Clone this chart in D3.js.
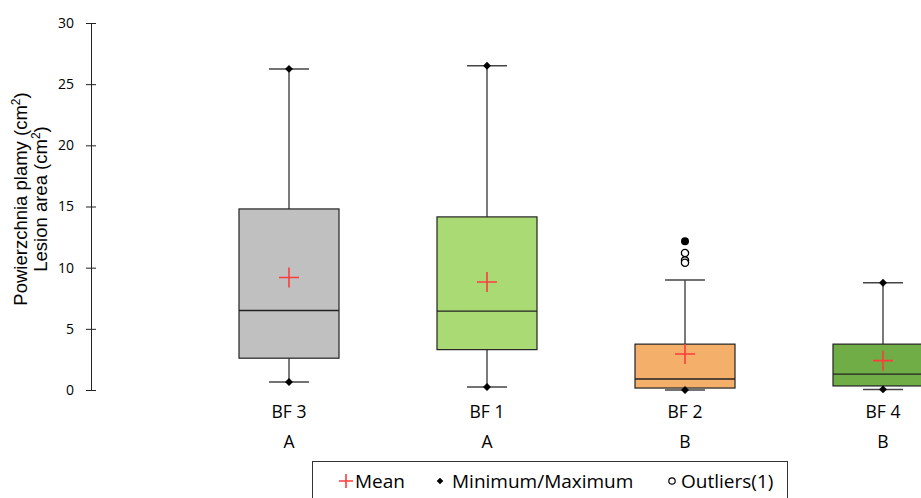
<!DOCTYPE html>
<html lang="pl">
<head>
<meta charset="utf-8">
<title>Lesion area box plot</title>
<script src="https://d3js.org/d3.v7.min.js"></script>
<style>
  body { margin: 0; background: #fff; }
  svg { display: block; font-family: "Open Sans", sans-serif; }
</style>
</head>
<body>
<svg id="chart" width="921" height="498"></svg>
<script>
// values
var groups   = ["BF 3", "BF 1", "BF 2", "BF 4"];
var letters  = ["A", "A", "B", "B"];
var colors   = ["#c0c0c0", "#a9da74", "#f4b06b", "#70ad47"];
var minVals  = [0.65, 0.25, 0.0, 0.05];
var q1Vals   = [2.6, 3.3, 0.16, 0.33];
var medVals  = [6.5, 6.45, 0.9, 1.3];
var q3Vals   = [14.8, 14.15, 3.75, 3.75];
var whiskHi  = [26.25, 26.5, 9.0, 8.77];
var maxVals  = [26.25, 26.5, 12.15, 8.77];
var meanVals = [9.2, 8.83, 2.94, 2.4];
// outliers of BF 2 (open circles)
var outliers = [[], [], [11.2, 10.6, 10.4], []];
var yTicks   = [0, 5, 10, 15, 20, 25, 30];

var svg = d3.select("#chart");

var y = d3.scaleLinear().domain([0, 30]).range([390, 23]);
var x = d3.scaleBand().domain(groups).range([190, 982]).padding(0);
var bw = 100;
var capW = 40;

// y axis, ticks cross the line
var yAxis = d3.axisLeft(y).tickValues(yTicks).tickSize(5).tickSizeOuter(0).tickPadding(12);
var ga = svg.append("g").attr("transform", "translate(91,0)").call(yAxis);
ga.select(".domain").attr("stroke", "#222");
ga.selectAll(".tick line").attr("stroke", "#222").attr("x1", 5).attr("x2", -5);
ga.selectAll(".tick text").attr("font-size", 14).attr("font-family", "Open Sans").attr("fill", "#000");

// y title (two lines)
function yTitle(xPos, label) {
  var t = svg.append("text")
    .attr("transform", "translate(" + xPos + ",199) rotate(-90)")
    .attr("text-anchor", "middle")
    .attr("font-family", "Liberation Sans, Arial, sans-serif")
    .attr("font-size", 18.5).attr("fill", "#000");
  t.append("tspan").text(label + " (cm");
  t.append("tspan").attr("baseline-shift", "super").attr("font-size", 12).text("2");
  t.append("tspan").text(")");
}
yTitle(27, "Powierzchnia plamy");
yTitle(47, "Lesion area");

var data = groups.map(function(g, i) {
  return { name: g, letter: letters[i], color: colors[i], min: minVals[i], q1: q1Vals[i],
    med: medVals[i], q3: q3Vals[i], hi: whiskHi[i], max: maxVals[i], mean: meanVals[i], out: outliers[i] };
});

var box = svg.selectAll(".box").data(data).enter().append("g").attr("class", "box")
  .attr("transform", function(d) { return "translate(" + (x(d.name) + x.bandwidth() / 2) + ",0)"; });

// whiskers
box.append("line").attr("x1", 0).attr("x2", 0)
  .attr("y1", function(d) { return y(d.hi); }).attr("y2", function(d) { return y(d.q3); })
  .attr("stroke", "#222").attr("stroke-width", 1.2);
box.append("line").attr("x1", 0).attr("x2", 0)
  .attr("y1", function(d) { return y(d.min); }).attr("y2", function(d) { return y(d.q1); })
  .attr("stroke", "#222").attr("stroke-width", 1.2);
box.append("line").attr("x1", -capW / 2).attr("x2", capW / 2)
  .attr("y1", function(d) { return y(d.hi); }).attr("y2", function(d) { return y(d.hi); })
  .attr("stroke", "#444").attr("stroke-width", 1.5);
box.append("line").attr("x1", -capW / 2).attr("x2", capW / 2)
  .attr("y1", function(d) { return y(d.min); }).attr("y2", function(d) { return y(d.min); })
  .attr("stroke", "#444").attr("stroke-width", 1.5);

// box
box.append("rect").attr("x", -bw / 2).attr("width", bw)
  .attr("y", function(d) { return y(d.q3); })
  .attr("height", function(d) { return y(d.q1) - y(d.q3); })
  .attr("fill", function(d) { return d.color; })
  .attr("stroke", "#222").attr("stroke-width", 1.2);
box.append("line").attr("x1", -bw / 2).attr("x2", bw / 2)
  .attr("y1", function(d) { return y(d.med); }).attr("y2", function(d) { return y(d.med); })
  .attr("stroke", "#222").attr("stroke-width", 1.4);

// mean
box.append("path")
  .attr("d", "M-10,0H10M0,-10V10")
  .attr("transform", function(d) { return "translate(0," + y(d.mean) + ")"; })
  .attr("stroke", "#ff3b3b").attr("stroke-width", 1.6).attr("fill", "none");

// min / max diamonds
var diamond = d3.symbol().type(d3.symbolDiamond2).size(40);
box.append("path").attr("d", diamond)
  .attr("transform", function(d) { return "translate(0," + y(d.min) + ")"; })
  .attr("fill", "#000");
box.filter(function(d) { return d.max === d.hi; }).append("path").attr("d", diamond)
  .attr("transform", function(d) { return "translate(0," + y(d.max) + ")"; })
  .attr("fill", "#000");

// outliers
box.selectAll(".out").data(function(d) { return d.out; }).enter().append("circle")
  .attr("cx", 0).attr("cy", function(v) { return y(v); }).attr("r", 3.6)
  .attr("fill", "#fff").attr("stroke", "#000").attr("stroke-width", 1.3);
box.filter(function(d) { return d.max > d.hi; }).append("circle")
  .attr("cx", 0).attr("cy", function(d) { return y(d.max); }).attr("r", 4)
  .attr("fill", "#000");

// category labels
box.append("text").attr("y", 418).attr("text-anchor", "middle")
  .attr("font-size", 17.5).attr("fill", "#000").text(function(d) { return d.name; });
box.append("text").attr("y", 448).attr("text-anchor", "middle")
  .attr("font-size", 17.5).attr("fill", "#000").text(function(d) { return d.letter; });

// legend
var lg = svg.append("g");
lg.append("rect").attr("x", 312.5).attr("y", 461.5).attr("width", 475).attr("height", 60)
  .attr("fill", "#fff").attr("stroke", "#333").attr("stroke-width", 1);
lg.append("path").attr("d", "M-7,0H7M0,-7V7").attr("transform", "translate(346,481)")
  .attr("stroke", "#ff3b3b").attr("stroke-width", 1.6);
lg.append("text").attr("x", 355).attr("y", 488).attr("font-size", 19).text("Mean");
lg.append("path").attr("d", d3.symbol().type(d3.symbolDiamond2).size(28)).attr("transform", "translate(440,481)")
  .attr("fill", "#000");
lg.append("text").attr("x", 452).attr("y", 488).attr("font-size", 19).text("Minimum/Maximum");
lg.append("circle").attr("cx", 672).attr("cy", 481).attr("r", 3.2)
  .attr("fill", "#fff").attr("stroke", "#000").attr("stroke-width", 1.2);
lg.append("text").attr("x", 681).attr("y", 488).attr("font-size", 19).text("Outliers(1)");
</script>
</body>
</html>
